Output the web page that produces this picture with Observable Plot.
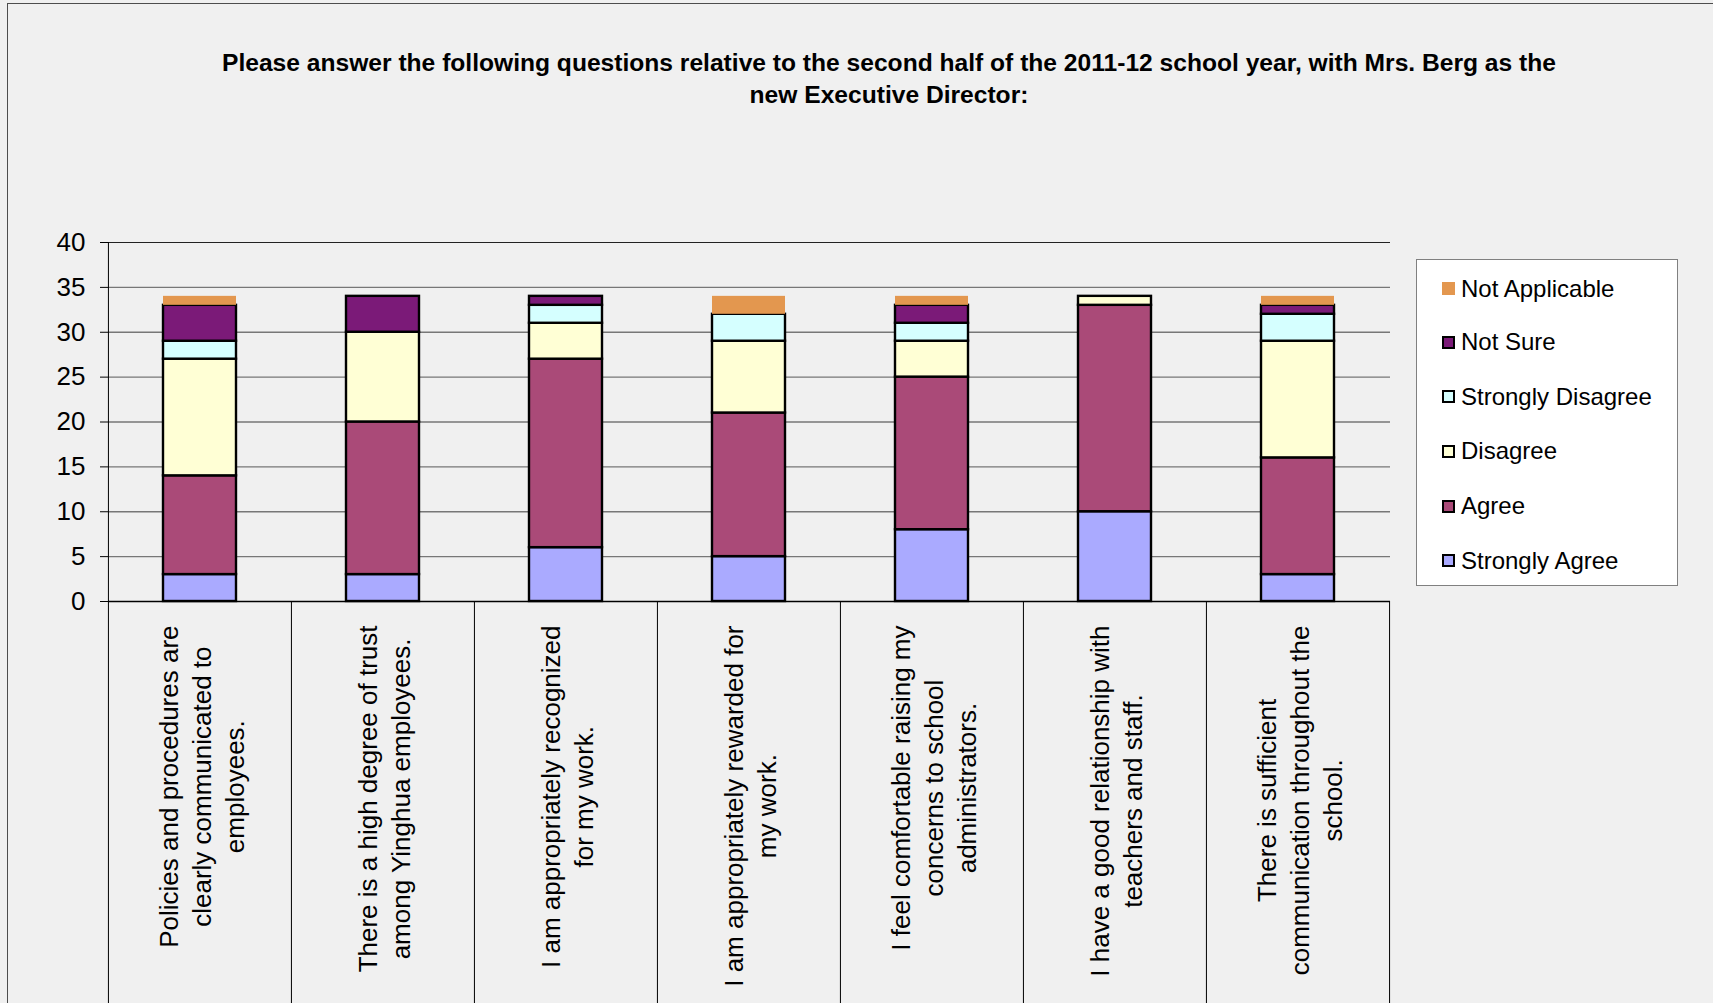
<!DOCTYPE html>
<html><head><meta charset="utf-8">
<script src="https://cdn.jsdelivr.net/npm/d3@7"></script>
<script src="https://cdn.jsdelivr.net/npm/@observablehq/plot@0.6"></script>
<style>
html,body{margin:0;padding:0;background:#f0f0f0;}
#chart{position:relative;width:1713px;height:1003px;overflow:hidden;font-family:"Liberation Sans",Arial,sans-serif;}
#frame{position:absolute;left:7px;top:3px;right:-10px;bottom:-10px;border-left:1px solid #4d4d4d;border-top:1px solid #4d4d4d;}
#title{position:absolute;left:0;width:1778px;top:47px;text-align:center;font-weight:bold;font-size:24.6px;line-height:32px;color:#000;}
#legend{position:absolute;left:1416px;top:259px;width:260px;height:325px;background:#fff;border:1px solid #808080;}
.item{position:absolute;left:25px;height:30px;display:flex;align-items:center;font-size:24px;color:#000;white-space:nowrap;}
.sw{box-sizing:border-box;width:13px;height:13px;border:2px solid #000;margin-right:6px;}
#plot{position:absolute;left:0;top:0;}
</style></head>
<body><div id="chart"><div id="frame"></div><div id="title"></div><div id="plot"></div><div id="legend"></div></div>
<script>
const titleLines = [
  "Please answer the following questions relative to the second half of the 2011-12 school year, with Mrs. Berg as the",
  "new Executive Director:"
];
const categories = [
  "Policies and procedures are\nclearly communicated to\nemployees.",
  "There is a high degree of trust\namong Yinghua employees.",
  "I am appropriately recognized\nfor my work.",
  "I am appropriately rewarded for\nmy work.",
  "I feel comfortable raising my\nconcerns to school\nadministrators.",
  "I have a good relationship with\nteachers and staff.",
  "There is sufficient\ncommunication throughout the\nschool."
];
const series = ["Strongly Agree", "Agree", "Disagree", "Strongly Disagree", "Not Sure", "Not Applicable"];
const colors = ["#aaaaff", "#aa4a78", "#ffffd5", "#d5ffff", "#7b1a78", "#e3974f"];
const stronglyAgree    = [3, 3, 6, 5, 8, 10, 3];
const agree            = [11, 17, 21, 16, 17, 23, 13];
const disagree         = [13, 10, 4, 8, 4, 1, 13];
const stronglyDisagree = [2, 0, 2, 3, 2, 0, 3];
const notSure          = [4, 4, 1, 0, 2, 0, 1];
const notApplicable    = [1, 0, 0, 2, 1, 0, 1];
const yTicks = [0, 5, 10, 15, 20, 25, 30, 35, 40];

const valuesBySeries = [stronglyAgree, agree, disagree, stronglyDisagree, notSure, notApplicable];
const rows = [];
categories.forEach((c, i) => {
  let acc = 0;
  series.forEach((s, j) => {
    const v = valuesBySeries[j][i];
    if (v > 0) rows.push({cat: c, series: s, y1: acc, y2: acc + v});
    acc += v;
  });
});

const W = 1713, H = 1003;
const mL = 108, mR = 323, mT = 242, mB = 402;
const step = (W - mL - mR) / categories.length;
const plotH = H - mT - mB;
const FONT = '"Liberation Sans", Arial, sans-serif';

const ctx = document.createElement("canvas").getContext("2d");
ctx.font = `26px ${FONT}`;
const labelMarks = categories.map(c => {
  const L = d3.max(c.split("\n"), line => ctx.measureText(line).width);
  return Plot.text([c], {
    x: d => d, text: d => d, rotate: -90, frameAnchor: "bottom",
    textAnchor: "middle", lineAnchor: "middle", lineHeight: 1.27,
    fontSize: 26, fill: "#000", dy: 24 + L / 2
  });
});

const NA = "Not Applicable";
const chart = Plot.plot({
  width: W, height: H,
  marginLeft: mL, marginRight: mR, marginTop: mT, marginBottom: mB,
  style: {background: "transparent", fontFamily: FONT, overflow: "visible", color: "#000"},
  x: {domain: categories, paddingInner: 0.6, paddingOuter: 0.3, axis: null},
  y: {domain: [0, 40], axis: null},
  color: {domain: series, range: colors},
  marks: [
    Plot.ruleY(yTicks.filter(t => t > 0 && t < 40), {stroke: "#777", strokeWidth: 1.3}),
    Plot.ruleY([40], {stroke: "#222"}),
    Plot.barY(rows.filter(d => d.series !== NA), {x: "cat", y1: "y1", y2: "y2", fill: "series", stroke: "#000", strokeWidth: 2.4}),
    Plot.barY(rows.filter(d => d.series === NA), {x: "cat", y1: "y1", y2: "y2", fill: "series"}),
    Plot.axisY({ticks: yTicks, tickSize: 8, tickPadding: 15, fontSize: 26, stroke: "#000", fill: "#000", label: null}),
    Plot.ruleY([0], {stroke: "#000", strokeWidth: 1.5}),
    Plot.ruleX([categories[0]], {dx: -step / 2, stroke: "#000"}),
    Plot.ruleX(categories, {dx: -step / 2, stroke: "#000", insetTop: plotH, insetBottom: -mB}),
    Plot.ruleX([categories[categories.length - 1]], {dx: step / 2, stroke: "#000", insetTop: plotH, insetBottom: -mB}),
    ...labelMarks
  ]
});
document.getElementById("plot").appendChild(chart);

document.getElementById("title").innerHTML = titleLines.join("<br>");

const legend = document.getElementById("legend");
const rowCenters = [29.5, 83, 137.5, 192, 247, 301.5];
series.slice().reverse().forEach((s, k) => {
  const item = document.createElement("div");
  item.className = "item";
  item.style.top = (rowCenters[k] - 16) + "px";
  const sw = document.createElement("div");
  sw.className = "sw";
  sw.style.background = colors[series.indexOf(s)];
  if (s === NA) sw.style.border = "none";
  const t = document.createElement("span");
  t.textContent = s;
  item.appendChild(sw); item.appendChild(t);
  legend.appendChild(item);
});
</script>
</body></html>
